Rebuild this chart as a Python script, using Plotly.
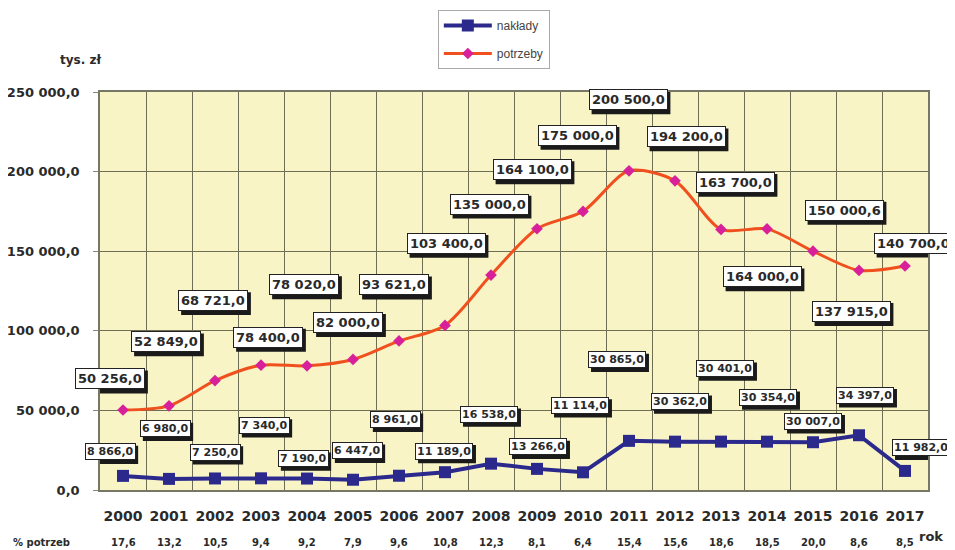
import plotly.graph_objects as go

years = [str(y) for y in range(2000, 2018)]
potrzeby = [50256.0, 52849.0, 68721.0, 78400.0, 78020.0, 82000.0, 93621.0, 103400.0, 135000.0,
            164100.0, 175000.0, 200500.0, 194200.0, 163700.0, 164000.0, 150000.6, 137915.0, 140700.0]
naklady = [8866.0, 6980.0, 7250.0, 7340.0, 7190.0, 6447.0, 8961.0, 11189.0, 16538.0,
           13266.0, 11114.0, 30865.0, 30362.0, 30401.0, 30354.0, 30007.0, 34397.0, 11982.0]
procent = [17.6, 13.2, 10.5, 9.4, 9.2, 7.9, 9.6, 10.8, 12.3, 8.1, 6.4, 15.4, 15.6, 18.6, 18.5, 20.0, 8.6, 8.5]
y_ticks = [0, 50000, 100000, 150000, 200000, 250000]

# label offsets (pixels) relative to the data point
red_dx = [-13, -3, -2, 7, -3, -5, -5, 1, -2, -5, -6, -1, 11, 14, -5, 31, -8, 8]
red_dy = [31, 64, 80, 28, 81, 37, 56, 82, 71, 59, 76, 71, 44, 47, -48, 41, -41, 23]
blue_dx = [-13, -4, 0, 3, -4, 4, -4, -1, -2, 1, -3, -12, 5, 4, 1, 0, 6, 16]
blue_dy = [24, 50, 26, 53, 20, 29, 56, 21, 49, 22, 67, 81, 40, 73, 44, 21, 40, 23]

FONT = "DejaVu Sans, Verdana, sans-serif"
TXT = "#2a2a2a"


def fmt(v):
    return f"{v:,.1f}".replace(",", " ").replace(".", ",")


def text_width(s, size):
    w = 0.0
    for ch in s:
        if ch.isdigit():
            w += 0.696
        elif ch == " ":
            w += 0.348
        else:
            w += 0.38
    return w * size


xs = list(range(len(years)))

fig = go.Figure()
fig.add_trace(go.Scatter(
    x=xs, y=naklady, name="nakłady", mode="lines+markers", legendgroup="a",
    line=dict(color="#2b2a8c", width=4),
    marker=dict(symbol="square", size=12, color="#2b2a8c"),
))
fig.add_trace(go.Scatter(
    x=xs, y=potrzeby, name="potrzeby", mode="lines+markers", legendgroup="b",
    line=dict(color="#f0501e", width=3, shape="spline", smoothing=0.8),
    marker=dict(symbol="diamond", size=9, color="#d8209a"),
))

ann = []
shapes = []


def add_label(i, v, dx, dy, size, pad):
    s = fmt(v)
    w = text_width(s, size) + 2 * pad + 2
    h = size * 1.3 + 2 * pad + 2
    shapes.append(dict(type="rect", xref="x", yref="y", xsizemode="pixel", ysizemode="pixel",
                       xanchor=i, yanchor=v,
                       x0=dx - w / 2 + 3, x1=dx + w / 2 + 3,
                       y0=dy - h / 2 - 3, y1=dy + h / 2 - 3,
                       fillcolor="#1a1a1a", line=dict(width=0), layer="above"))
    ann.append(dict(x=i, y=v, xref="x", yref="y", text=f"<b>{s}</b>", showarrow=False,
                    xshift=dx, yshift=dy, bgcolor="white", bordercolor="#222222",
                    borderwidth=1, borderpad=pad,
                    font=dict(size=size, color=TXT, family=FONT)))


for i, v in enumerate(potrzeby):
    add_label(i, v, red_dx[i], red_dy[i], 13, 2)
for i, v in enumerate(naklady):
    add_label(i, v, blue_dx[i], blue_dy[i], 11, 1)

for i, p in enumerate(procent):
    ann.append(dict(x=i, y=-0.133, xref="x", yref="paper", xanchor="center", yanchor="middle",
                    text=f"<b>{str(p).replace('.', ',')}</b>",
                    showarrow=False, font=dict(size=10, color=TXT, family=FONT)))
ann.append(dict(x=-0.071, y=-0.133, xref="paper", yref="paper", xanchor="center", yanchor="middle",
                text="<b>% potrzeb</b>", showarrow=False,
                font=dict(size=10, color=TXT, family=FONT)))
ann.append(dict(x=1.004, y=-0.118, xref="paper", yref="paper", xanchor="center", yanchor="middle",
                text="<b>rok</b>", showarrow=False,
                font=dict(size=13, color=TXT, family=FONT)))
ann.append(dict(x=-0.024, y=1.08, xref="paper", yref="paper", xanchor="center", yanchor="middle",
                text="<b>tys. zł</b>", showarrow=False,
                font=dict(size=12, color=TXT, family=FONT)))

fig.update_layout(
    width=947, height=542,
    margin=dict(l=92, r=27, t=84, b=60, autoexpand=False),
    paper_bgcolor="white",
    plot_bgcolor="#f8f4c6",
    showlegend=True,
    legend=dict(x=0.408, y=1.206, xanchor="left", yanchor="top", bgcolor="white",
                bordercolor="#aaaaaa", borderwidth=1, itemwidth=48,
                font=dict(size=12, color="#444444", family="Liberation Sans, Arial"),
                tracegroupgap=9),
    annotations=ann,
    shapes=shapes,
    font=dict(family=FONT, color=TXT),
)
fig.update_xaxes(
    range=[-0.5, 17.5], tickmode="array", tickvals=xs,
    ticktext=[f"<b>{y}</b>" for y in years], tickfont=dict(size=14, color=TXT, family=FONT),
    showgrid=False, ticks="outside", ticklen=5, tickcolor="rgba(0,0,0,0)", ticklabelstandoff=7,
    minor=dict(tick0=0.5, dtick=1, showgrid=True, gridcolor="#6e6e55", gridwidth=1.3),
    showline=True, linecolor="#777766", linewidth=1.5, mirror=True, zeroline=False,
)
fig.update_yaxes(
    range=[0, 250000], tickmode="array", tickvals=y_ticks,
    ticktext=[f"<b>{fmt(v)}</b>" for v in y_ticks], tickfont=dict(size=13, color=TXT, family=FONT),
    showgrid=True, gridcolor="#6e6e55", gridwidth=1.3,
    ticks="outside", ticklen=5, tickcolor="#888877", ticklabelstandoff=11,
    showline=True, linecolor="#777766", linewidth=1.5, mirror=True, zeroline=False,
)

fig.write_html("out.html")
